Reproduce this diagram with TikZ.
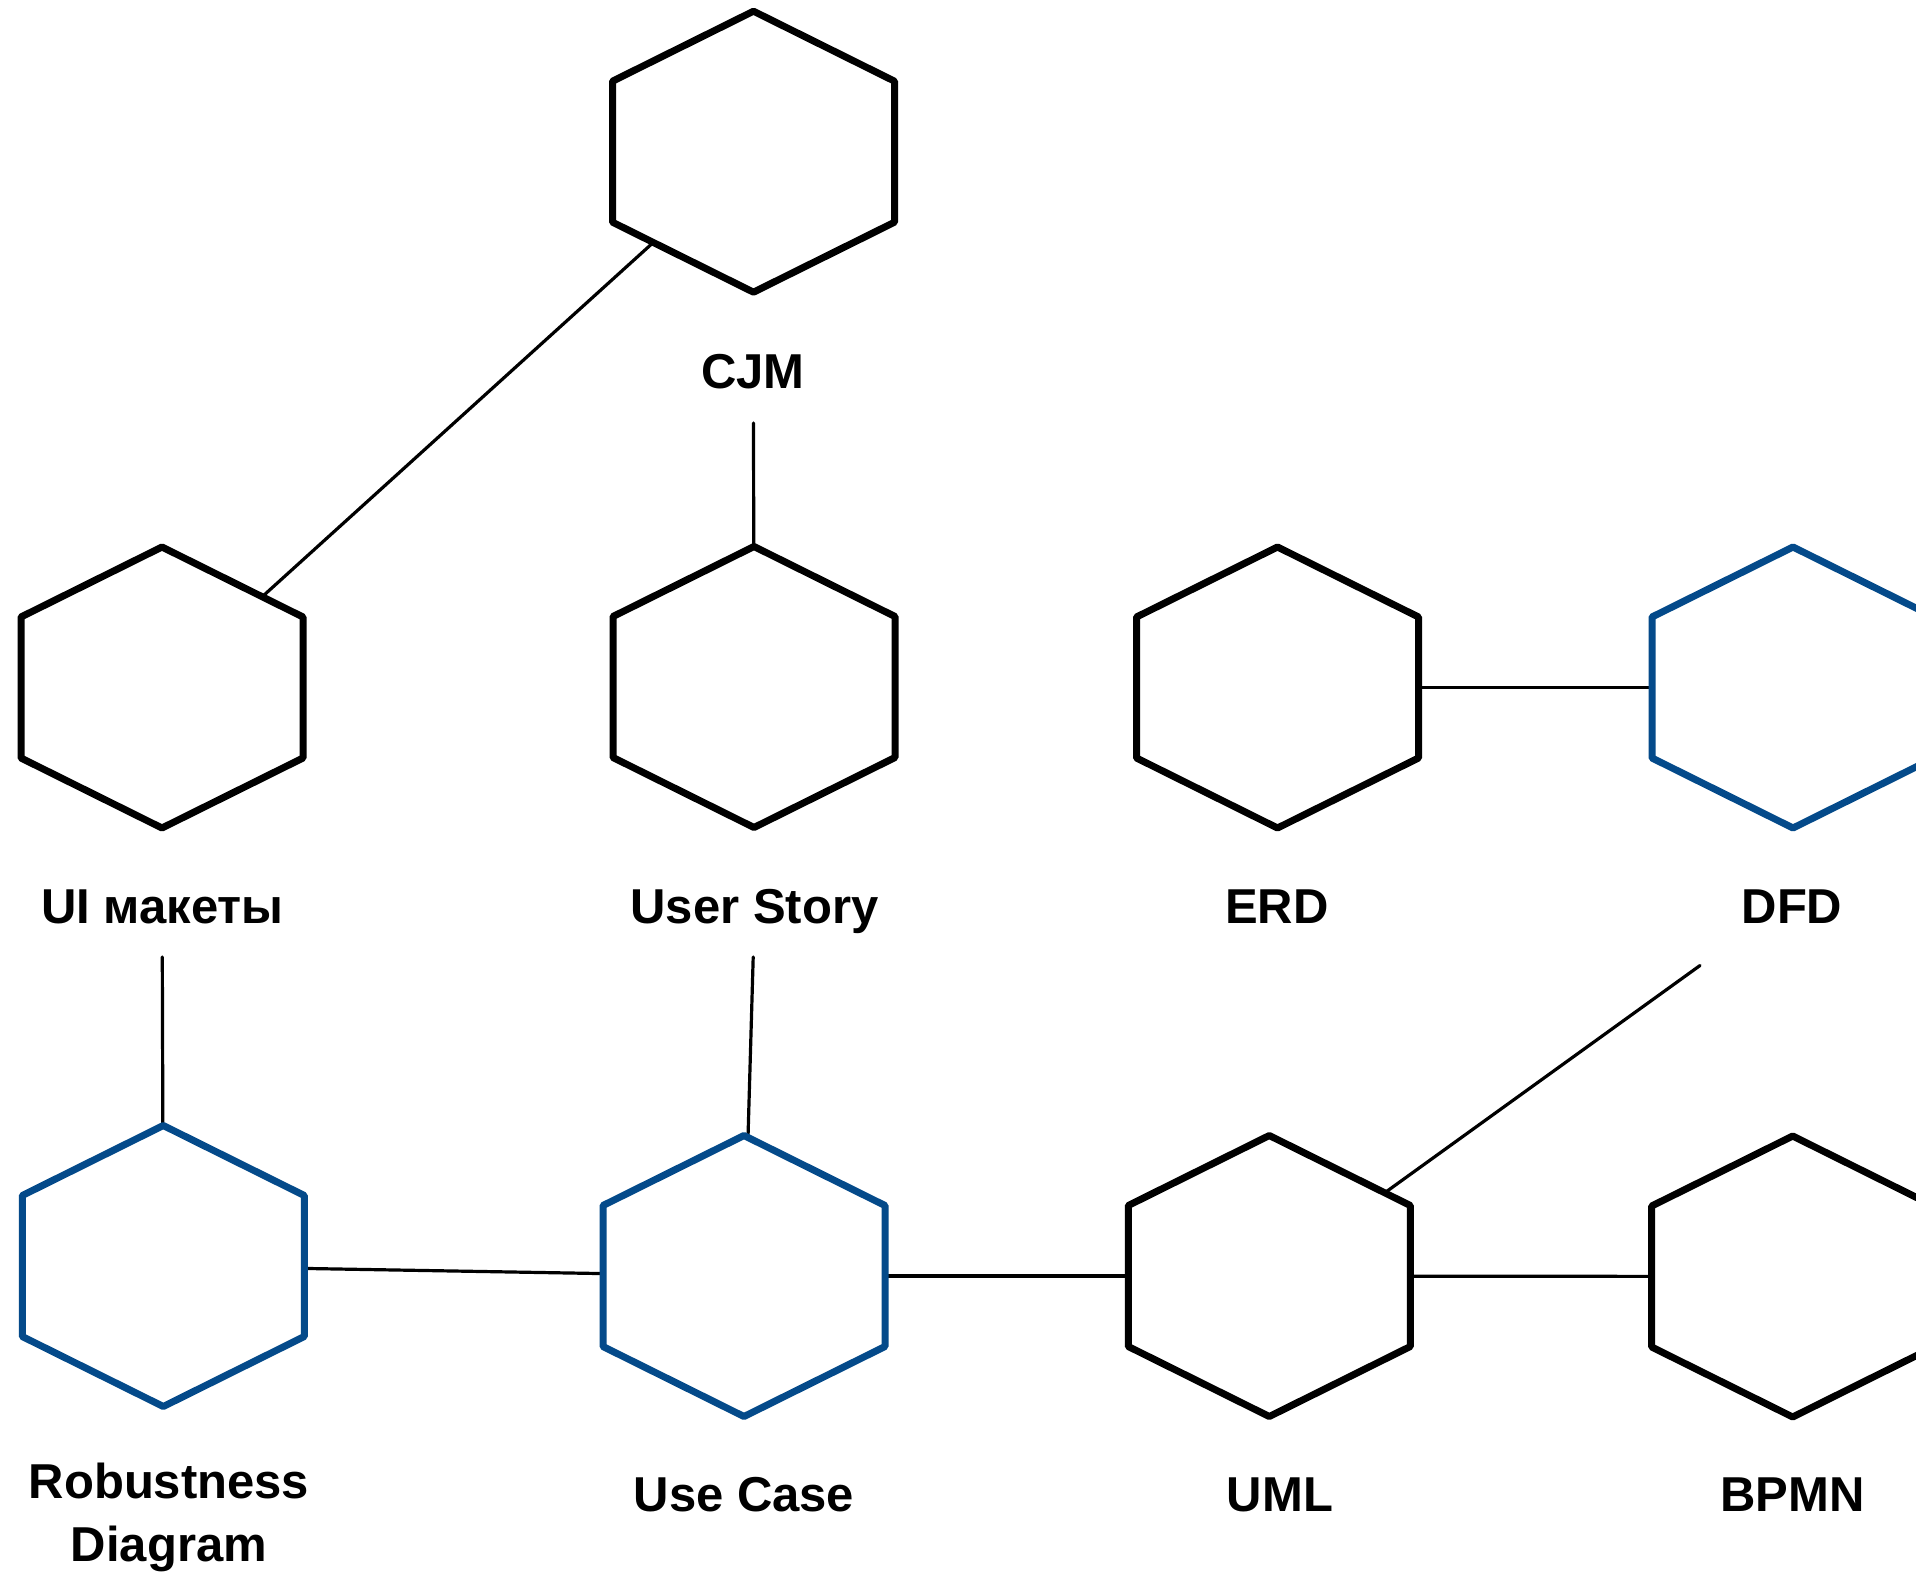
\documentclass[tikz,border=0pt]{standalone}
\usepackage{fontspec}
\setmainfont{Liberation Sans}
\definecolor{hexblue}{RGB}{4,74,138}
\tikzset{
  hexshape/.pic={\path[pic actions] (0,-140.5) -- (141,-70.5) -- (141,70.5) -- (0,140.5) -- (-141,70.5) -- (-141,-70.5) -- cycle;},
  hexblack/.style={draw=black, fill=white, line width=7pt, line join=round},
  hexblu/.style={draw=hexblue, fill=white, line width=7pt, line join=round},
  conn/.style={draw=black, line width=3.2pt, line cap=round},
  lbl/.style={font=\fontsize{49}{63.4}\selectfont\bfseries, anchor=base, inner sep=0pt, align=center}
}
\begin{document}
\begin{tikzpicture}[x=1pt,y=-1pt]
\useasboundingbox (0,0) rectangle (1916,1574);
\clip (0,0) rectangle (1916,1574);
\fill[white] (0,0) rectangle (1916,1574);

% hexagon centres
\coordinate (cjm) at (753.5,151.7);
\coordinate (ui) at (162,687.5);
\coordinate (ustory) at (754,687);
\coordinate (erd) at (1277.5,687.5);
\coordinate (dfd) at (1793,687.5);
\coordinate (rob) at (163.3,1266);
\coordinate (ucase) at (744,1276);
\coordinate (uml) at (1269.3,1276);
\coordinate (bpmn) at (1792.7,1276.5);

% free ends of connectors below labels
\coordinate (ecjm) at (753.5,423);
\coordinate (eui) at (162.3,957);
\coordinate (eus) at (753.2,957);
\coordinate (edfd) at (1700,965.5);

% connectors (drawn first, hexagons cover their inner parts)
\draw[conn] (cjm) -- (ui);
\draw[conn] (ecjm) -- (ustory);
\draw[conn] (eui) -- (rob);
\draw[conn] (eus) -- (ucase);
\draw[conn] (erd) -- (dfd);
\draw[conn] (edfd) -- (uml);
\draw[conn] (rob) -- (ucase);
\draw[conn] (ucase) -- (uml);
\draw[conn] (uml) -- (bpmn);

% hexagons
\pic[hexblack] at (cjm) {hexshape};
\pic[hexblack] at (ui) {hexshape};
\pic[hexblack] at (ustory) {hexshape};
\pic[hexblack] at (erd) {hexshape};
\pic[hexblu] at (dfd) {hexshape};
\pic[hexblu] at (rob) {hexshape};
\pic[hexblu] at (ucase) {hexshape};
\pic[hexblack] at (uml) {hexshape};
\pic[hexblack] at (bpmn) {hexshape};

% labels
\node[lbl] (lcjm) at (753,388) {CJM};
\node[lbl] (lui) at (162.5,923.3) {UI макеты};
\node[lbl] (lus) at (754.5,923.3) {User Story};
\node[lbl] (lerd) at (1277,923.3) {ERD};
\node[lbl] (ldfd) at (1792,923.3) {DFD};
\node[lbl] (lrob) at (169,1561.7) {Robustness\\Diagram};
\node[lbl] (lucase) at (744,1511.7) {Use Case};
\node[lbl] (luml) at (1280,1511.7) {UML};
\node[lbl] (lbpmn) at (1792.5,1511.7) {BPMN};
\end{tikzpicture}
\end{document}
